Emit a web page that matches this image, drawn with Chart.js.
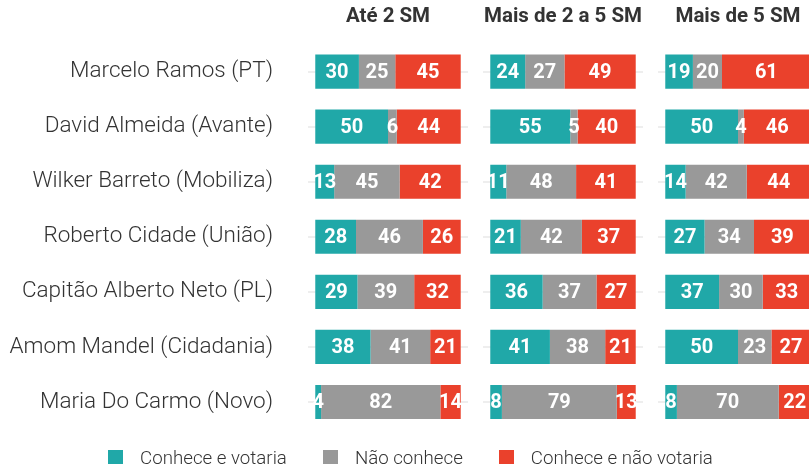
<!DOCTYPE html>
<html>
<head>
<meta charset="utf-8">
<script src="https://cdn.jsdelivr.net/npm/chart.js@4"></script>
<style>
  body { margin: 0; background: #fff; }
  #wrap { position: relative; width: 809px; height: 464px; overflow: hidden; }
  #wrap canvas { position: absolute; top: 0; }
  #legend { position: absolute; top: 447px; left: 6px; width: 809px; display: flex; justify-content: center;
    font-family: Roboto, sans-serif; font-weight: 300; font-size: 18.7px; color: #333; }
  #legend span { display: inline-flex; align-items: center; margin: 0 18px; }
  #legend i { display: inline-block; width: 15px; height: 16px; margin-right: 17px; }
</style>
</head>
<body>
<div id="wrap">
  <div style="position:absolute;left:0;top:0;width:468px;height:464px"><canvas id="c1"></canvas></div>
  <div style="position:absolute;left:483px;top:0;width:160px;height:464px"><canvas id="c2"></canvas></div>
  <div style="position:absolute;left:658px;top:0;width:160px;height:464px"><canvas id="c3"></canvas></div>
  <div id="legend"></div>
</div>
<script>
// candidates
var candidates = ['Marcelo Ramos (PT)', 'David Almeida (Avante)', 'Wilker Barreto (Mobiliza)',
  'Roberto Cidade (União)', 'Capitão Alberto Neto (PL)', 'Amom Mandel (Cidadania)', 'Maria Do Carmo (Novo)'];
var panels = ['Até 2 SM', 'Mais de 2 a 5 SM', 'Mais de 5 SM'];
var seriesNames = ['Conhece e votaria', 'Não conhece', 'Conhece e não votaria'];
var colors = ['#20a8a8', '#999999', '#ea412c'];

// values per panel
var votaria1 = [30, 50, 13, 28, 29, 38, 4];
var naoConhece1 = [25, 6, 45, 46, 39, 41, 82];
var naoVotaria1 = [45, 44, 42, 26, 32, 21, 14];

var votaria2 = [24, 55, 11, 21, 36, 41, 8];
var naoConhece2 = [27, 5, 48, 42, 37, 38, 79];
var naoVotaria2 = [49, 40, 41, 37, 27, 21, 13];

var votaria3 = [19, 50, 14, 27, 37, 50, 8];
var naoConhece3 = [20, 4, 42, 34, 30, 23, 70];
var naoVotaria3 = [61, 46, 44, 39, 33, 27, 22];

var panelData = [
  [votaria1, naoConhece1, naoVotaria1],
  [votaria2, naoConhece2, naoVotaria2],
  [votaria3, naoConhece3, naoVotaria3]
];

// white numbers in the middle of each segment
var barLabels = {
  id: 'barLabels',
  afterDatasetsDraw: function(chart) {
    var ctx = chart.ctx;
    ctx.save();
    ctx.font = 'bold 20px Roboto';
    ctx.fillStyle = '#fff';
    ctx.textAlign = 'center';
    ctx.textBaseline = 'middle';
    chart.data.datasets.forEach(function(ds, i) {
      chart.getDatasetMeta(i).data.forEach(function(bar, j) {
        ctx.fillText(ds.data[j], (bar.x + bar.base) / 2, bar.y + 1);
      });
    });
    ctx.restore();
  }
};

function makeChart(id, p, showLabels) {
  var datasets = panelData[p].map(function(vals, k) {
    return { label: seriesNames[k], data: vals, backgroundColor: colors[k],
      barPercentage: 1, categoryPercentage: 0.62 };
  });
  new Chart(document.getElementById(id), {
    type: 'bar',
    data: { labels: candidates, datasets: datasets },
    plugins: [barLabels],
    options: {
      indexAxis: 'y',
      responsive: true,
      maintainAspectRatio: false,
      animation: false,
      layout: { padding: { top: 0, bottom: 34.5, left: 0, right: 0 } },
      plugins: {
        legend: { display: false },
        tooltip: { enabled: false },
        title: {
          display: true, text: panels[p], fullSize: false, color: '#333',
          font: { family: 'Roboto', size: 20.5, weight: 'bold' },
          padding: { top: 4.7, bottom: 14.8 }
        }
      },
      scales: {
        x: { stacked: true, min: -5, max: 105, display: false },
        y: {
          stacked: true,
          border: { display: false },
          grid: { offset: false, color: '#eeeeee', lineWidth: 2, drawTicks: false },
          ticks: {
            display: showLabels, color: '#333', padding: 35,
            font: { family: 'Roboto', size: 22.5, weight: 300 }
          },
          afterFit: function(scale) {
            scale.width = showLabels ? 308 : 0;
            scale.paddingTop = 0;
            scale.paddingBottom = 0;
          }
        }
      }
    }
  });
}

makeChart('c1', 0, true);
makeChart('c2', 1, false);
makeChart('c3', 2, false);

var legend = document.getElementById('legend');
seriesNames.forEach(function(name, k) {
  legend.innerHTML += '<span><i style="background:' + colors[k] + '"></i>' + name + '</span>';
});
</script>
</body>
</html>
